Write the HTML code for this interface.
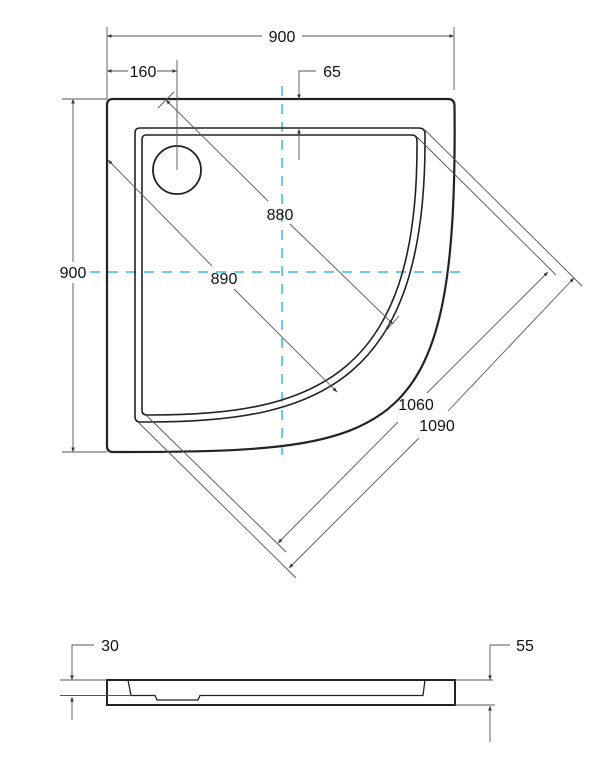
<!DOCTYPE html>
<html><head><meta charset="utf-8"><style>
html,body{margin:0;padding:0;background:#fff;}
svg{display:block;}
text{font-family:"Liberation Sans",sans-serif;font-size:16px;fill:#111;}
</style></head><body>
<svg width="610" height="778" viewBox="0 0 610 778" xmlns="http://www.w3.org/2000/svg">
<defs>
<marker id="a" viewBox="0 0 10 10" refX="10" refY="5" markerWidth="5" markerHeight="5" orient="auto-start-reverse"><path d="M0,1 L10,5 L0,9 z" fill="#333"/></marker>
</defs>
<g stroke="#3bb8e8" stroke-width="1.5" stroke-dasharray="10,8" fill="none">
<line x1="282" y1="86" x2="282" y2="455"/>
<line x1="90" y1="272" x2="462" y2="272"/>
</g>
<g fill="none" stroke="#222">
<path d="M113 99 L448 99 Q454 99 454.5 105 C458 440 400 452 120 452 L113 452 Q107 452 107 446 L107 105 Q107 99 113 99 Z" stroke-width="2.2"/>
<path d="M140 128 L419 128 Q425 128 425 134 L425 142 C425 380 320 422 150 422 L140 422 Q135 422 135 416 L135 133 Q135 128 140 128 Z" stroke-width="1.6"/>
<path d="M146 135 L412 135 Q417 135 417 141 L417 147 C417 375 315 415 152 415 L147 415 Q142 415 142 410 L142 140 Q142 135 146 135 Z" stroke-width="1.6"/>
<circle cx="177" cy="170" r="24" stroke-width="1.8"/>
</g>
<g stroke="#555" stroke-width="0.9" fill="none">
<line x1="107" y1="27" x2="107" y2="99"/>
<line x1="454" y1="27" x2="454" y2="90"/>
<line x1="107" y1="36" x2="262" y2="36" marker-start="url(#a)"/>
<line x1="302" y1="36" x2="454" y2="36" marker-end="url(#a)"/>
<line x1="107" y1="71" x2="128" y2="71" marker-start="url(#a)"/>
<line x1="157" y1="71" x2="177" y2="71" marker-end="url(#a)"/>
<line x1="177" y1="60" x2="177" y2="170"/>
<polyline points="316,71 299,71 299,99" marker-end="url(#a)"/>
<line x1="299" y1="160" x2="299" y2="129" marker-end="url(#a)"/>
<line x1="62" y1="99" x2="107" y2="99"/>
<line x1="62" y1="452" x2="107" y2="452"/>
<line x1="73" y1="99" x2="73" y2="262" marker-start="url(#a)"/>
<line x1="73" y1="283" x2="73" y2="452" marker-end="url(#a)"/>
<line x1="166" y1="100" x2="268" y2="201" marker-start="url(#a)"/>
<line x1="290" y1="224" x2="393" y2="324" marker-end="url(#a)"/>
<line x1="158" y1="108" x2="174" y2="92"/>
<line x1="385" y1="332" x2="399" y2="316"/>
<line x1="108" y1="160" x2="212" y2="266" marker-start="url(#a)"/>
<line x1="234" y1="289" x2="337" y2="392" marker-end="url(#a)"/>
<line x1="425" y1="130" x2="582" y2="286"/>
<line x1="417" y1="137" x2="556" y2="275"/>
<line x1="138" y1="422" x2="296" y2="578"/>
<line x1="146" y1="415" x2="286" y2="552"/>
<line x1="278" y1="543" x2="398" y2="422" marker-start="url(#a)"/>
<line x1="427" y1="393" x2="548" y2="272" marker-end="url(#a)"/>
<line x1="289" y1="568" x2="419" y2="438" marker-start="url(#a)"/>
<line x1="448" y1="411" x2="574" y2="278" marker-end="url(#a)"/>
</g>
<text x="282" y="42" text-anchor="middle">900</text>
<text x="143" y="77" text-anchor="middle">160</text>
<text x="332" y="77" text-anchor="middle">65</text>
<text x="73" y="278" text-anchor="middle">900</text>
<text x="280" y="220" text-anchor="middle">880</text>
<text x="224" y="284" text-anchor="middle">890</text>
<text x="416" y="410" text-anchor="middle">1060</text>
<text x="437" y="431" text-anchor="middle">1090</text>
<g fill="none" stroke="#222">
<rect x="107" y="680" width="348" height="25" stroke-width="2"/>
<path d="M128 680 L131 695.5 L155 695.5 L157 700 L198 700 L200 695.5 L423 695.5 L425 680" stroke-width="1.3"/>
</g>
<g stroke="#555" stroke-width="0.9" fill="none">
<line x1="60" y1="680" x2="107" y2="680"/>
<line x1="60" y1="695.5" x2="130" y2="695.5"/>
<polyline points="94,645 72,645 72,680" marker-end="url(#a)"/>
<line x1="72" y1="720" x2="72" y2="697" marker-end="url(#a)"/>
<line x1="455" y1="680" x2="493" y2="680"/>
<line x1="455" y1="705" x2="495" y2="705"/>
<polyline points="510,645 490,645 490,680" marker-end="url(#a)"/>
<line x1="490" y1="742" x2="490" y2="706" marker-end="url(#a)"/>
</g>
<text x="110" y="651" text-anchor="middle">30</text>
<text x="525" y="651" text-anchor="middle">55</text>
</svg>
</body></html>
